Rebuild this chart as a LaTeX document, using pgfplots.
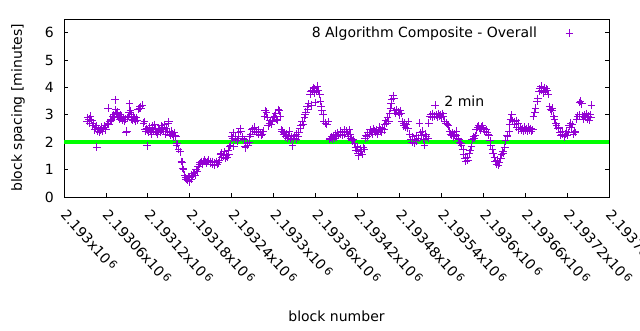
\documentclass[border=0pt]{standalone}
\usepackage{pgfplots}
\pgfplotsset{compat=1.18}
\usepackage{pgfplotstable}
\usepackage{fontspec}
\setmainfont{DejaVu Sans}
\definecolor{dviolet}{HTML}{9400D3}
\definecolor{lgreen}{HTML}{00FF00}
\newcommand{\sx}[1]{#1x10\kern2pt\raisebox{3pt}{\fontsize{11}{11}\selectfont 6}}
\pgfplotstableread{
x y
2193033 2.75
2193034 2.90
2193036 2.85
2193037 2.70
2193038 2.95
2193040 2.80
2193041 2.60
2193042 2.70
2193044 2.45
2193045 2.55
2193046 2.60
2193047 1.82
2193048 2.40
2193049 2.50
2193051 2.35
2193052 2.45
2193054 2.55
2193055 2.40
2193056 2.50
2193058 2.60
2193059 2.55
2193060 2.45
2193062 2.70
2193063 3.25
2193064 2.65
2193066 2.75
2193067 2.85
2193068 2.80
2193070 2.95
2193071 3.00
2193072 2.90
2193073 3.55
2193074 3.20
2193075 3.05
2193076 2.95
2193077 3.10
2193078 2.90
2193080 2.85
2193081 3.00
2193082 2.95
2193084 2.80
2193085 2.90
2193086 2.75
2193088 2.85
2193089 2.35
2193090 2.40
2193091 2.90
2193092 2.95
2193093 3.10
2193094 3.40
2193095 3.15
2193096 3.00
2193097 2.85
2193098 2.80
2193100 2.95
2193101 2.85
2193102 2.75
2193104 2.90
2193105 2.80
2193106 3.20
2193108 3.25
2193109 3.30
2193110 3.25
2193112 3.35
2193114 2.70
2193115 2.75
2193116 2.45
2193117 2.40
2193118 2.50
2193119 1.87
2193120 2.45
2193121 2.35
2193122 2.55
2193124 2.40
2193125 2.30
2193126 2.60
2193127 2.50
2193128 2.40
2193130 2.65
2193131 2.45
2193132 2.35
2193134 2.30
2193135 2.45
2193136 2.50
2193138 2.35
2193139 2.60
2193140 2.45
2193141 2.55
2193143 2.40
2193144 2.65
2193145 2.30
2193146 2.50
2193148 2.40
2193149 2.70
2193150 2.75
2193151 2.35
2193152 2.25
2193154 2.40
2193155 2.30
2193156 2.20
2193158 2.35
2193159 2.25
2193160 2.20
2193161 1.90
2193162 1.95
2193164 1.75
2193166 1.65
2193168 1.30
2193169 1.28
2193170 1.05
2193171 1.00
2193173 0.80
2193174 0.70
2193175 0.65
2193177 0.60
2193178 0.75
2193179 0.55
2193180 0.70
2193182 0.65
2193183 0.80
2193184 0.75
2193185 0.85
2193187 0.90
2193188 0.80
2193189 1.00
2193191 0.95
2193192 1.10
2193194 1.20
2193195 1.25
2193197 1.30
2193198 1.20
2193200 1.30
2193201 1.35
2193203 1.30
2193204 1.25
2193206 1.30
2193207 1.35
2193209 1.25
2193210 1.30
2193212 1.20
2193213 1.30
2193215 1.25
2193216 1.15
2193218 1.30
2193219 1.20
2193221 1.25
2193222 1.35
2193224 1.55
2193225 1.60
2193226 1.45
2193228 1.50
2193229 1.65
2193231 1.40
2193232 1.50
2193234 1.45
2193235 1.70
2193236 1.55
2193237 1.85
2193238 1.90
2193240 2.20
2193241 2.15
2193242 2.35
2193243 1.85
2193245 2.10
2193246 2.20
2193248 2.05
2193249 2.15
2193250 2.35
2193252 2.50
2193253 2.40
2193255 2.20
2193256 2.15
2193258 2.10
2193259 1.85
2193260 1.80
2193262 1.95
2193263 1.90
2193265 2.00
2193266 2.20
2193267 2.30
2193269 2.45
2193270 2.50
2193272 2.40
2193273 2.55
2193275 2.35
2193276 2.40
2193278 2.30
2193279 2.45
2193281 2.35
2193282 2.25
2193284 2.30
2193285 2.40
2193287 2.95
2193288 3.15
2193290 3.10
2193291 2.90
2193292 2.60
2193294 2.70
2193295 2.80
2193297 2.65
2193298 2.75
2193300 2.90
2193301 2.95
2193303 3.05
2193304 2.85
2193305 2.80
2193307 3.20
2193308 3.15
2193310 2.95
2193311 2.45
2193312 2.40
2193314 2.30
2193315 2.35
2193317 2.20
2193318 2.30
2193320 2.15
2193321 2.25
2193323 2.40
2193324 2.10
2193326 2.20
2193327 1.87
2193329 2.15
2193330 2.25
2193332 2.10
2193333 2.30
2193335 2.20
2193336 2.35
2193338 2.50
2193339 2.60
2193341 2.75
2193342 2.65
2193344 2.90
2193345 3.00
2193346 3.10
2193348 3.30
2193349 3.20
2193350 3.40
2193352 3.75
2193353 3.85
2193354 3.35
2193355 3.90
2193357 4.00
2193358 3.80
2193359 3.95
2193360 3.45
2193361 3.85
2193363 4.05
2193364 3.90
2193366 3.75
2193367 3.50
2193368 3.30
2193369 3.15
2193371 3.00
2193372 2.75
2193374 2.70
2193376 2.65
2193378 2.75
2193380 2.10
2193381 2.15
2193383 2.20
2193384 2.10
2193386 2.25
2193387 2.15
2193389 2.30
2193390 2.20
2193392 2.35
2193393 2.25
2193395 2.30
2193396 2.40
2193398 2.25
2193399 2.35
2193401 2.45
2193402 2.30
2193404 2.40
2193405 2.35
2193407 2.20
2193408 2.45
2193410 2.30
2193411 2.15
2193413 2.05
2193414 2.10
2193416 1.95
2193417 1.80
2193418 1.70
2193420 1.85
2193421 1.60
2193422 1.50
2193424 1.75
2193425 1.65
2193427 1.55
2193428 1.80
2193430 1.75
2193431 2.15
2193432 2.25
2193434 2.20
2193435 2.35
2193437 2.30
2193438 2.45
2193440 2.35
2193441 2.30
2193443 2.50
2193444 2.40
2193446 2.35
2193447 2.45
2193449 2.30
2193450 2.40
2193452 2.55
2193453 2.45
2193455 2.35
2193456 2.50
2193458 2.45
2193459 2.65
2193460 2.80
2193462 2.70
2193463 2.90
2193465 2.75
2193466 3.05
2193467 3.25
2193468 3.40
2193469 3.55
2193471 3.70
2193472 3.60
2193473 3.15
2193475 3.05
2193476 3.20
2193478 3.10
2193480 3.00
2193481 3.15
2193483 3.05
2193484 2.75
2193486 2.60
2193487 2.70
2193489 2.55
2193490 2.65
2193492 2.50
2193493 2.75
2193495 2.30
2193496 2.10
2193498 2.00
2193499 2.20
2193501 1.95
2193502 2.10
2193504 2.25
2193505 2.05
2193507 2.15
2193509 2.70
2193510 2.35
2193512 2.25
2193513 2.40
2193515 2.10
2193516 1.90
2193518 2.30
2193519 2.20
2193521 2.15
2193522 2.70
2193524 2.95
2193525 3.00
2193527 2.90
2193528 3.05
2193530 2.95
2193531 3.35
2193533 3.00
2193534 2.90
2193536 3.05
2193537 2.95
2193539 3.00
2193540 2.90
2193542 3.05
2193543 2.95
2193545 2.75
2193547 2.70
2193549 2.65
2193550 2.60
2193552 2.40
2193553 2.30
2193555 2.25
2193556 2.35
2193558 2.20
2193559 2.30
2193561 2.40
2193562 2.25
2193564 2.15
2193565 2.10
2193566 2.00
2193568 1.95
2193569 1.90
2193571 1.75
2193572 1.55
2193574 1.40
2193575 1.30
2193577 1.45
2193578 1.35
2193580 1.60
2193581 1.70
2193583 1.85
2193584 2.10
2193586 2.20
2193587 2.15
2193589 2.25
2193590 2.45
2193592 2.55
2193593 2.60
2193595 2.50
2193596 2.45
2193598 2.55
2193599 2.60
2193601 2.50
2193602 2.40
2193604 2.45
2193605 2.35
2193607 2.30
2193608 2.25
2193610 2.05
2193611 1.90
2193613 1.75
2193614 1.60
2193616 1.45
2193617 1.30
2193619 1.20
2193620 1.35
2193622 1.15
2193623 1.25
2193625 1.40
2193626 1.55
2193628 1.65
2193629 1.60
2193631 1.80
2193632 2.05
2193634 2.25
2193635 2.20
2193637 2.40
2193638 2.65
2193639 2.85
2193641 3.00
2193642 2.80
2193644 2.75
2193645 2.65
2193647 2.80
2193648 2.55
2193650 2.70
2193651 2.45
2193653 2.55
2193654 2.45
2193656 2.50
2193657 2.40
2193659 2.55
2193660 2.45
2193662 2.50
2193663 2.40
2193665 2.55
2193666 2.45
2193668 2.50
2193669 2.40
2193671 2.45
2193672 2.95
2193674 3.10
2193675 3.25
2193677 3.50
2193678 3.60
2193680 3.85
2193681 3.95
2193683 4.05
2193684 3.90
2193686 3.80
2193687 4.00
2193689 3.85
2193690 3.95
2193692 3.90
2193693 3.75
2193695 3.30
2193696 3.20
2193698 3.15
2193699 3.25
2193701 2.95
2193702 2.85
2193704 2.70
2193705 2.60
2193707 2.50
2193708 2.55
2193710 2.35
2193711 2.25
2193713 2.30
2193714 2.40
2193716 2.20
2193717 2.30
2193719 2.40
2193720 2.25
2193722 2.35
2193723 2.60
2193725 2.70
2193726 2.55
2193728 2.65
2193729 2.30
2193731 2.40
2193732 2.35
2193734 2.85
2193735 2.95
2193737 3.00
2193738 3.45
2193739 3.50
2193741 3.40
2193742 2.95
2193744 2.85
2193745 3.00
2193746 2.90
2193748 3.05
2193749 2.85
2193750 2.95
2193752 2.80
2193753 3.00
2193754 2.90
2193755 3.35
}\data
\pgfplotstableread{
x y
2193000 2
2193780 2
}\twomin
\begin{document}
\begin{tikzpicture}
\useasboundingbox (0,0) rectangle (640pt,330pt);
\begin{axis}[
  at={(64pt,133pt)}, anchor=south west,
  scale only axis, width=545pt, height=178pt,
  xmin=2193000, xmax=2193780, ymin=0, ymax=6.5,
  scaled x ticks=false,
  font=\fontsize{14}{17}\selectfont,
  /pgf/number format/assume math mode=true,
  xtick={2193000,2193060,2193120,2193180,2193240,2193300,2193360,2193420,2193480,2193540,2193600,2193660,2193720,2193780},
  xticklabels={\sx{2.193},\sx{2.19306},\sx{2.19312},\sx{2.19318},\sx{2.19324},\sx{2.1933},\sx{2.19336},\sx{2.19342},\sx{2.19348},\sx{2.19354},\sx{2.1936},\sx{2.19366},\sx{2.19372},\sx{2.19378}},
  ytick={0,1,2,3,4,5,6},
  tick align=inside, xtick pos=bottom, ytick pos=both,
  major tick length=4pt,
  tick style={black, line width=0.8pt},
  axis line style={black, line width=0.9pt},
  xticklabel style={yshift=-15pt, rotate=-48, anchor=west, inner sep=0pt},
  yticklabel style={inner sep=2pt, xshift=-8pt},
  xlabel={block number}, ylabel={block spacing [minutes]},
  xlabel style={at={(axis description cs:0.5,0)}, anchor=center, yshift=-119pt},
  ylabel style={at={(axis description cs:0,0.5)}, anchor=center, yshift=46pt},
  legend style={draw=none, fill=none, at={(axis description cs:1,1)}, anchor=north east, xshift=-26pt, yshift=-4pt, font=\fontsize{14}{17}\selectfont, legend cell align=right},
  legend plot pos=right,
]
\addplot[only marks, mark=+, mark size=3.8pt, dviolet, line width=0.9pt,
  legend image code/.code={\path (0pt,0pt) (40pt,0pt); \draw[dviolet, line width=0.9pt, only marks, mark=+, mark size=3.8pt] plot coordinates {(30pt,0pt)};}] table[x=x,y=y] {\data};
\addlegendentry{8 Algorithm Composite - Overall}
\addplot[lgreen, line width=3.6pt, forget plot] table[x=x,y=y] {\twomin};
\node[font=\fontsize{14}{17}\selectfont] at (axis cs:2193573,3.49) {2 min};
\end{axis}
\end{tikzpicture}
\end{document}
